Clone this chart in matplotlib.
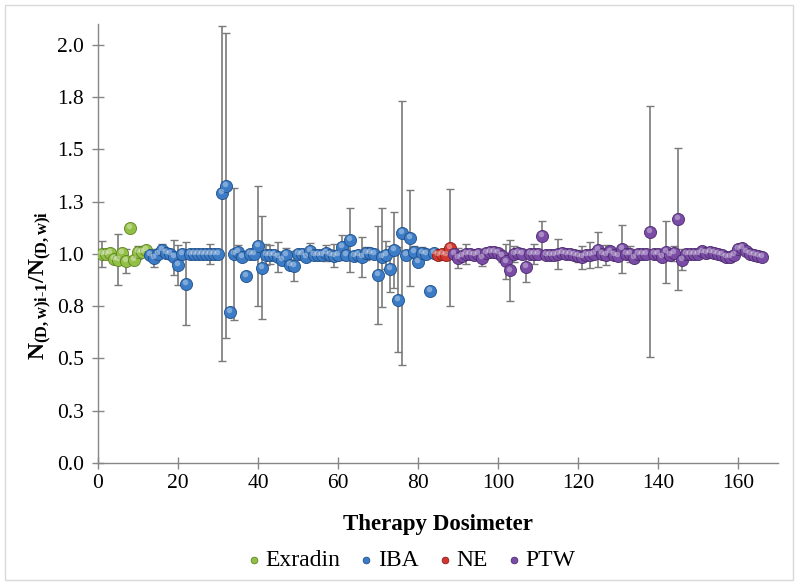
import numpy as np
import matplotlib
matplotlib.use('Agg')
import matplotlib.pyplot as plt
import matplotlib.transforms as mtransforms
from matplotlib.patches import Rectangle

plt.rcParams['font.family'] = 'Liberation Serif'
plt.rcParams['mathtext.fontset'] = 'custom'
plt.rcParams['mathtext.rm'] = 'Liberation Serif'
plt.rcParams['mathtext.bf'] = 'Liberation Serif:bold'
plt.rcParams['mathtext.it'] = 'Liberation Serif:italic'

# ---- data ----
exradin_x = list(range(1, 13))
exradin_y = [1.0, 1.0, 1.003, 0.976, 0.972, 1.003, 0.966, 1.123, 0.972, 1.008,
             1.008, 1.02]
exradin_err = [0.06, 0, 0, 0, 0.122, 0, 0.058, 0, 0, 0.03, 0, 0]

iba_x = list(range(13, 85))
iba_y = [0.995, 0.98, 1.0, 1.018, 1.003, 1.0, 0.985, 0.948, 1.0, 0.858,
         1.0, 1.0, 1.0, 1.0, 1.0, 1.0, 1.0, 0.998, 1.29, 1.326,
         0.722, 1.0, 1.011, 0.987, 0.893, 1.0, 1.0, 1.036, 0.934, 0.997,
         0.997, 0.997, 0.985, 0.972, 0.997, 0.948, 0.942, 1.0, 1.0, 0.985,
         1.014, 0.997, 0.995, 0.995, 1.005, 0.997, 0.992, 0.997, 1.032, 0.997,
         1.068, 0.992, 0.997, 0.985, 1.003, 1.003, 1.0, 0.901, 0.985, 0.997,
         0.929, 1.018, 0.781, 1.10, 0.995, 1.077, 1.01, 0.962, 1.005, 1.0,
         0.822, 1.005]
iba_err = [0, 0.044, 0, 0.03, 0, 0, 0.084, 0.096, 0, 0.2,
           0, 0, 0, 0, 0, 0.05, 0, 0, 0.8, 0.73,
           0, 0.317, 0.03, 0, 0, 0, 0, 0.287, 0.247, 0.05,
           0.045, 0, 0.07, 0, 0.03, 0, 0.07, 0, 0, 0,
           0.04, 0, 0, 0, 0.04, 0, 0.055, 0, 0.06, 0,
           0.154, 0, 0, 0.097, 0.03, 0, 0, 0.235, 0.237, 0.067,
           0.11, 0.183, 0.25, 0.63, 0, 0.228, 0.03, 0, 0.03, 0,
           0, 0]

ne_x = [85, 86, 87, 88]
ne_y = [0.995, 1.0, 0.995, 1.03]
ne_err = [0.02, 0, 0.02, 0.28]

ptw_x = list(range(89, 167))
ptw_y = [0.998, 0.982, 0.99, 1.0, 0.998, 0.995, 0.998, 0.982, 1.005, 1.01,
         1.008, 1.005, 0.99, 0.964, 0.921, 1.0, 1.006, 1.0, 0.937, 1.0,
         1.0, 1.0, 1.084, 0.995, 0.995, 0.995, 1.0, 1.006, 1.0, 1.0,
         0.995, 0.99, 0.985, 0.995, 0.995, 1.0, 1.02, 1.0, 0.995, 1.012,
         0.993, 0.99, 1.025, 1.0, 1.0, 0.98, 1.0, 1.0, 1.0, 1.107,
         1.0, 1.0, 0.985, 1.01, 0.995, 1.003, 1.168, 0.972, 1.0, 1.0,
         1.0, 1.0, 1.012, 1.005, 1.008, 1.005, 1.0, 0.995, 0.985, 0.985,
         0.995, 1.025, 1.03, 1.012, 1.0, 0.995, 0.99, 0.985]
ptw_err = [0, 0.048, 0, 0.048, 0, 0, 0, 0.04, 0, 0,
           0, 0, 0.03, 0.083, 0.148, 0.04, 0, 0, 0.07, 0,
           0.05, 0, 0.072, 0, 0, 0, 0.07, 0, 0, 0,
           0, 0.03, 0.055, 0, 0.06, 0, 0.083, 0, 0.05, 0,
           0, 0, 0.115, 0, 0.04, 0, 0, 0, 0, 0.6,
           0, 0, 0, 0.15, 0, 0.036, 0.34, 0.05, 0, 0,
           0, 0, 0, 0.025, 0, 0, 0, 0, 0, 0.025,
           0, 0, 0, 0, 0, 0, 0.025, 0]

series_names = ['Exradin', 'IBA', 'NE', 'PTW']
series_colors = ['#92bf45', '#3c7cc6', '#d2372f', '#7a4ca6']
series_edges = ['#5f8326', '#1f4f8a', '#8c1d17', '#4d2b70']

y_ticks = [0.0, 0.25, 0.5, 0.75, 1.0, 1.25, 1.5, 1.75, 2.0]
y_tick_labels = ['0.0', '0.3', '0.5', '0.8', '1.0', '1.3', '1.5', '1.8', '2.0']
x_ticks = [0, 20, 40, 60, 80, 100, 120, 140, 160]

# ---- plot ----
fig = plt.figure(figsize=(7.98, 5.85), dpi=100)
ax = fig.add_axes([0.1228, 0.2085, 0.852, 0.7505])

axis_grey = '#868686'
tick_font_size = 15.5

all_series = [
    (exradin_x, exradin_y, exradin_err),
    (iba_x, iba_y, iba_err),
    (ne_x, ne_y, ne_err),
    (ptw_x, ptw_y, ptw_err),
]

highlight = mtransforms.offset_copy(ax.transData, fig=fig, x=-0.8, y=1.4,
                                    units='points')

for index, (x, y, err) in enumerate(all_series):
    x = np.array(x)
    y = np.array(y)
    err = np.array(err)
    m = err > 0
    ax.errorbar(x[m], y[m], yerr=err[m], fmt='none', ecolor='#7a7a7a',
                elinewidth=1.2, capsize=3, capthick=1.0, zorder=2)
    ax.scatter(x, y, s=76, color=series_colors[index],
               edgecolors=series_edges[index], linewidths=0.6, zorder=3,
               label=series_names[index])
    ax.scatter(x, y, s=16, color='white', alpha=0.35, linewidths=0,
               zorder=4, transform=highlight)

ax.set_xlim(0, 170)
ax.set_ylim(0, 2.1)
ax.set_xticks(x_ticks)
ax.set_yticks(y_ticks)
ax.set_yticklabels(y_tick_labels)

for side in ['top', 'right']:
    ax.spines[side].set_visible(False)
for side in ['left', 'bottom']:
    ax.spines[side].set_color(axis_grey)
    ax.spines[side].set_linewidth(1.0)

ax.tick_params(axis='both', which='major', direction='inout', length=8,
               width=1.0, color=axis_grey, labelsize=tick_font_size)
ax.tick_params(axis='y', pad=6)
ax.tick_params(axis='x', pad=4)

ax.set_xlabel('Therapy Dosimeter', fontsize=16.5, fontweight='bold')
ax.xaxis.set_label_coords(0.5, -0.115)
ax.set_ylabel(r'$\mathbf{N_{(D,w)i\text{-}1}/N_{(D,w)i}}$', fontsize=17)
ax.yaxis.set_label_coords(-0.064, 0.405)

fig.legend(loc='lower center', bbox_to_anchor=(0.512, -0.012), ncol=4,
           frameon=False, fontsize=17, markerscale=0.55, handletextpad=0.0,
           columnspacing=0.6, handlelength=1.0)

fig.patches.append(Rectangle((0.006, 0.008), 0.988, 0.984,
                             transform=fig.transFigure, fill=False,
                             edgecolor='#d9d9d9', linewidth=1.0))

plt.savefig('out.png', dpi=100)
